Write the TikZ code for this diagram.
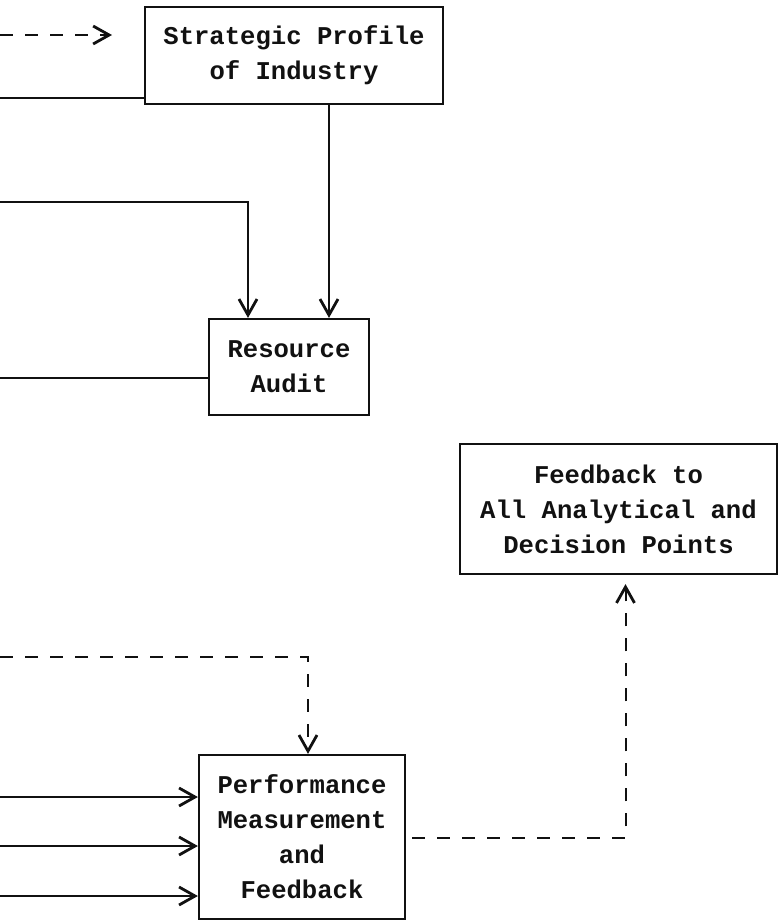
\documentclass[tikz,border=0pt]{standalone}
\usepackage{fontspec}
\setmonofont{Liberation Mono}
\usepackage{tikz}
\usetikzlibrary{arrows.meta, positioning}
\usepackage{xcolor}
\definecolor{InkBlack}{HTML}{111111}

\tikzset{
  stagebox/.style={draw=InkBlack, line width=1.1pt, inner sep=0pt, align=center,
                   font=\ttfamily\bfseries\fontsize{12.8}{17.5}\selectfont, text=InkBlack},
  flow/.style={draw=InkBlack, line width=1pt, -{Straight Barb[length=8pt, width=9pt, line width=1.4pt]}},
  flowplain/.style={draw=InkBlack, line width=1pt},
  flowdash/.style={flow, dash pattern=on 6.5pt off 6pt}
}

\begin{document}
\begin{tikzpicture}[x=0.5pt, y=-0.5pt]
\useasboundingbox (0,0) rectangle (778,923);

% ── Boxes ─────────────────────────────────────────────────────────────────────
\node[stagebox, minimum width=149pt, minimum height=48.5pt] (profile) at (294, 55.5)
  {Strategic Profile\\of Industry};
\node[stagebox, minimum width=80pt, minimum height=48pt] (audit) at (289, 367)
  {Resource\\Audit};
\node[stagebox, minimum width=158.5pt, minimum height=65pt] (feedback) at (618.5, 509)
  {Feedback to\\All Analytical and\\Decision Points};
\node[stagebox, minimum width=103pt, minimum height=82pt] (perf) at (302, 837)
  {Performance\\Measurement\\and\\Feedback};

% ── Free ends on the left ─────────────────────────────────────────────────────
\coordinate (dashin)  at (0, 35);
\coordinate (dashend) at (112, 35);
\coordinate (profin)  at (0, 98);
\coordinate (auditA)  at (0, 202);
\coordinate (auditB)  at (0, 378);
\coordinate (perfdash) at (0, 657);

% ── Connectors ────────────────────────────────────────────────────────────────
\draw[flowdash] (dashin) -- (dashend);
\draw[flowplain] (profin) -- (profin -| profile.west);

\coordinate (auditR) at ([xshift=20pt]audit.north);
\coordinate (auditL) at ([xshift=-20.5pt]audit.north);
\draw[flow] (profile.south -| auditR) -- (auditR);
\draw[flow] (auditA) -| (auditL);
\draw[flowplain] (auditB) -- (auditB -| audit.west);

\draw[flowdash] (perfdash) -| ([xshift=3pt]perf.north);
\foreach \y/\n in {797/one, 846/two, 896/three}{
  \coordinate (perf\n) at (0, \y);
  \draw[flow] (perf\n) -- (perf\n -| perf.west);
}

\draw[flowdash, shorten <=3pt, shorten >=4.5pt]
  ([yshift=-0.5pt]perf.east) -| ([xshift=3.5pt]feedback.south);

\end{tikzpicture}
\end{document}
